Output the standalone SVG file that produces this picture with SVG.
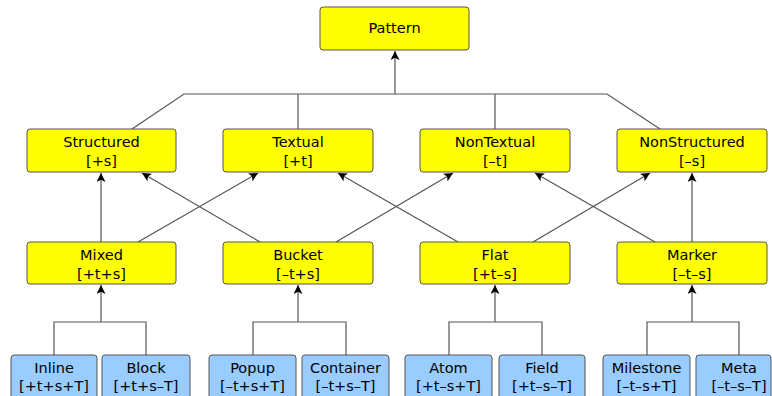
<svg xmlns="http://www.w3.org/2000/svg" width="772" height="396" viewBox="0 0 772 396">
<defs>
<marker id="arr" viewBox="0 0 10 10" refX="10" refY="5" markerWidth="9" markerHeight="9" markerUnits="userSpaceOnUse" orient="auto">
<path d="M0,0 L10,5 L0,10 L2.5,5 Z" fill="#000"/>
</marker>
<style>
.y{fill:#ffff00;stroke:#555;stroke-width:1}
.b{fill:#99ccff;stroke:#555;stroke-width:1}
text{font-family:"DejaVu Sans","Liberation Sans",sans-serif;font-size:14.5px;fill:#000;text-anchor:middle}
.c{fill:none;stroke:#555;stroke-width:1.2}
.a{fill:none;stroke:#555;stroke-width:1.2;marker-end:url(#arr)}
</style>
</defs>
<rect width="772" height="396" fill="#fff"/>
<g id="connectors">
<polyline class="c" points="132,129 184,94 607,94 660,129"/>
<line class="c" x1="298" y1="94" x2="298" y2="129"/>
<line class="c" x1="495" y1="94" x2="495" y2="129"/>
<line class="a" x1="395" y1="94" x2="395" y2="51"/>
<line class="a" x1="101" y1="242" x2="101" y2="173"/>
<line class="a" x1="138" y1="242" x2="258" y2="173"/>
<line class="a" x1="260" y1="242" x2="142" y2="173"/>
<line class="a" x1="336" y1="242" x2="453" y2="173"/>
<line class="a" x1="458" y1="242" x2="338" y2="173"/>
<line class="a" x1="533" y1="242" x2="650" y2="173"/>
<line class="a" x1="655" y1="242" x2="535" y2="173"/>
<line class="a" x1="692" y1="242" x2="692" y2="173"/>
<polyline class="c" points="54,355 54,322 146,322 146,355"/>
<line class="a" x1="101" y1="322" x2="101" y2="285"/>
<polyline class="c" points="253,355 253,322 346,322 346,355"/>
<line class="a" x1="298" y1="322" x2="298" y2="285"/>
<polyline class="c" points="449,355 449,322 542,322 542,355"/>
<line class="a" x1="495" y1="322" x2="495" y2="285"/>
<polyline class="c" points="647,355 647,322 739,322 739,355"/>
<line class="a" x1="692" y1="322" x2="692" y2="285"/>
</g>
<g id="pattern"><rect class="y" x="320" y="7" width="149" height="43" rx="3"/><text x="394.5" y="33">Pattern</text></g>
<g id="structured"><rect class="y" x="27" y="129" width="149" height="43" rx="3"/><text x="101.5" y="147">Structured</text><text x="101.5" y="166">[+s]</text></g>
<g id="textual"><rect class="y" x="223" y="129" width="150" height="43" rx="3"/><text x="298" y="147">Textual</text><text x="298" y="166">[+t]</text></g>
<g id="nontextual"><rect class="y" x="420" y="129" width="150" height="43" rx="3"/><text x="495" y="147">NonTextual</text><text x="495" y="166">[–t]</text></g>
<g id="nonstructured"><rect class="y" x="617" y="129" width="150" height="43" rx="3"/><text x="692" y="147">NonStructured</text><text x="692" y="166">[–s]</text></g>
<g id="mixed"><rect class="y" x="27" y="242" width="149" height="42" rx="3"/><text x="101.5" y="260">Mixed</text><text x="101.5" y="279">[+t+s]</text></g>
<g id="bucket"><rect class="y" x="223" y="242" width="150" height="42" rx="3"/><text x="298" y="260">Bucket</text><text x="298" y="279">[–t+s]</text></g>
<g id="flat"><rect class="y" x="420" y="242" width="150" height="42" rx="3"/><text x="495" y="260">Flat</text><text x="495" y="279">[+t–s]</text></g>
<g id="marker"><rect class="y" x="617" y="242" width="150" height="42" rx="3"/><text x="692" y="260">Marker</text><text x="692" y="279">[–t–s]</text></g>
<g id="inline"><rect class="b" x="11" y="355" width="86" height="44" rx="3"/><text x="54" y="373">Inline</text><text x="54" y="391">[+t+s+T]</text></g>
<g id="block"><rect class="b" x="102" y="355" width="88" height="44" rx="3"/><text x="146" y="373">Block</text><text x="146" y="391">[+t+s–T]</text></g>
<g id="popup"><rect class="b" x="209" y="355" width="87" height="44" rx="3"/><text x="252.5" y="373">Popup</text><text x="252.5" y="391">[–t+s+T]</text></g>
<g id="container"><rect class="b" x="302" y="355" width="87" height="44" rx="3"/><text x="345.5" y="373">Container</text><text x="345.5" y="391">[–t+s–T]</text></g>
<g id="atom"><rect class="b" x="405" y="355" width="87" height="44" rx="3"/><text x="448.5" y="373">Atom</text><text x="448.5" y="391">[+t–s+T]</text></g>
<g id="field"><rect class="b" x="499" y="355" width="86" height="44" rx="3"/><text x="542" y="373">Field</text><text x="542" y="391">[+t–s–T]</text></g>
<g id="milestone"><rect class="b" x="603" y="355" width="87" height="44" rx="3"/><text x="646.5" y="373">Milestone</text><text x="646.5" y="391">[–t–s+T]</text></g>
<g id="meta"><rect class="b" x="696" y="355" width="75" height="44" rx="3"/><text x="739" y="373">Meta</text><text x="739" y="391">[–t–s–T]</text></g>
</svg>
